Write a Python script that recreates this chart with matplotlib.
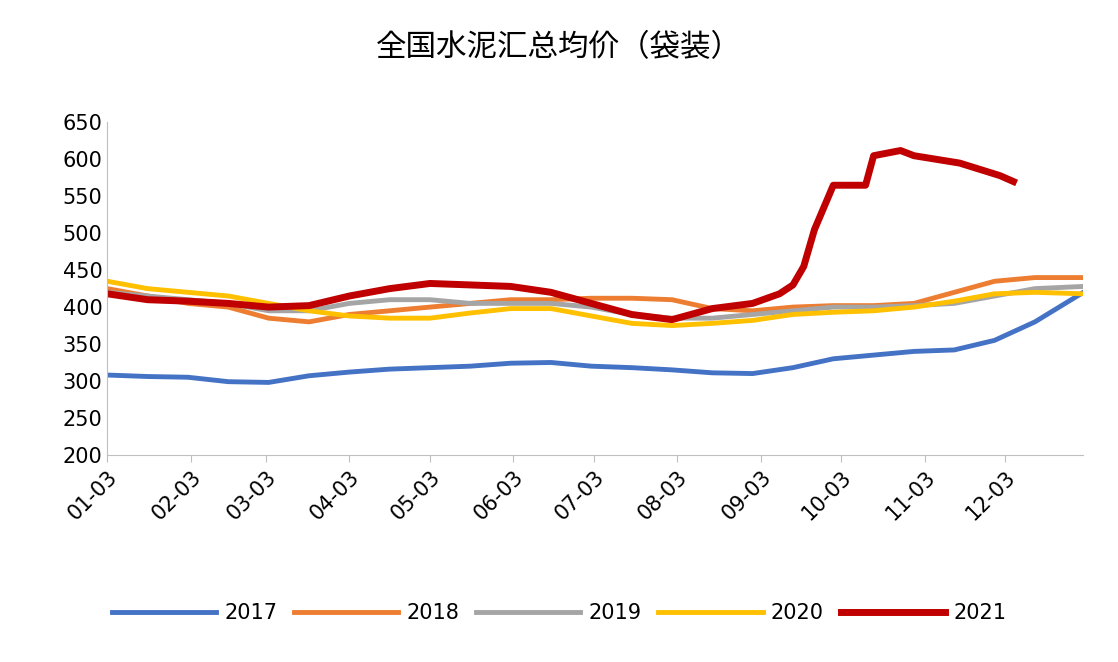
import matplotlib
matplotlib.use("Agg")
import matplotlib.pyplot as plt

plt.rcParams["font.family"] = ["DejaVu Sans", "Noto Sans CJK JP", "Noto Sans CJK SC", "Noto Sans CJK TC", "Noto Sans CJK KR"]

tick_labels = ["01-03","02-03","03-03","04-03","05-03","06-03","07-03","08-03","09-03","10-03","11-03","12-03"]
tick_days = [0,31,59,90,120,151,181,212,243,273,304,334]

days_std = [0,15,30,45,60,75,90,105,120,135,150,165,180,195,210,225,240,255,270,285,300,315,330,345,363]
v2017 = [308,306,305,299,298,307,312,316,318,320,324,325,320,318,315,311,310,318,330,335,340,342,355,380,420]
v2018 = [425,415,405,400,385,380,390,395,400,405,410,410,412,412,410,398,395,400,402,402,405,420,435,440,440]
v2019 = [420,415,410,405,395,395,405,410,410,405,405,405,400,390,385,385,390,395,400,400,402,405,415,425,428]
v2020 = [435,425,420,415,405,395,388,385,385,392,398,398,388,378,375,378,382,390,393,395,400,408,418,420,418]
days_2021 = [0,15,30,45,60,75,90,105,120,135,150,165,180,195,210,225,240,250,255,259,263,270,282,285,295,300,317,332,337]
v2021 = [418,410,408,405,400,402,415,425,432,430,428,420,405,390,383,398,405,418,430,455,505,565,565,605,612,605,595,578,570]

fig = plt.figure(figsize=(11.18,6.62), dpi=100)
ax = fig.add_axes([0.096, 0.313, 0.873, 0.502])
ax.plot(days_std, v2017, color="#4472C4", lw=3.5, label="2017")
ax.plot(days_std, v2018, color="#ED7D31", lw=3.5, label="2018")
ax.plot(days_std, v2019, color="#A5A5A5", lw=3.5, label="2019")
ax.plot(days_std, v2020, color="#FFC000", lw=3.5, label="2020")
ax.plot(days_2021, v2021, color="#C00000", lw=5, label="2021")
ax.set_xlim(0,363)
ax.set_ylim(200,650)
ax.set_yticks(range(200,651,50))
ax.set_xticks(tick_days)
ax.set_xticklabels(tick_labels, rotation=45, ha="right", rotation_mode="anchor")
ax.tick_params(labelsize=15, length=0)
ax.tick_params(axis="x", length=5, color="#BFBFBF", direction="out")
for s in ["top","right"]:
    ax.spines[s].set_visible(False)
ax.spines["left"].set_color("#BFBFBF")
ax.spines["bottom"].set_color("#BFBFBF")
fig.suptitle("全国水泥汇总均价（袋装）", fontsize=22, y=0.95)
fig.legend(loc="lower center", ncol=5, frameon=False, fontsize=15, bbox_to_anchor=(0.5,0.03),
           handlelength=5, columnspacing=0.8, handletextpad=0.4)
fig.savefig("out.png", dpi=100)
